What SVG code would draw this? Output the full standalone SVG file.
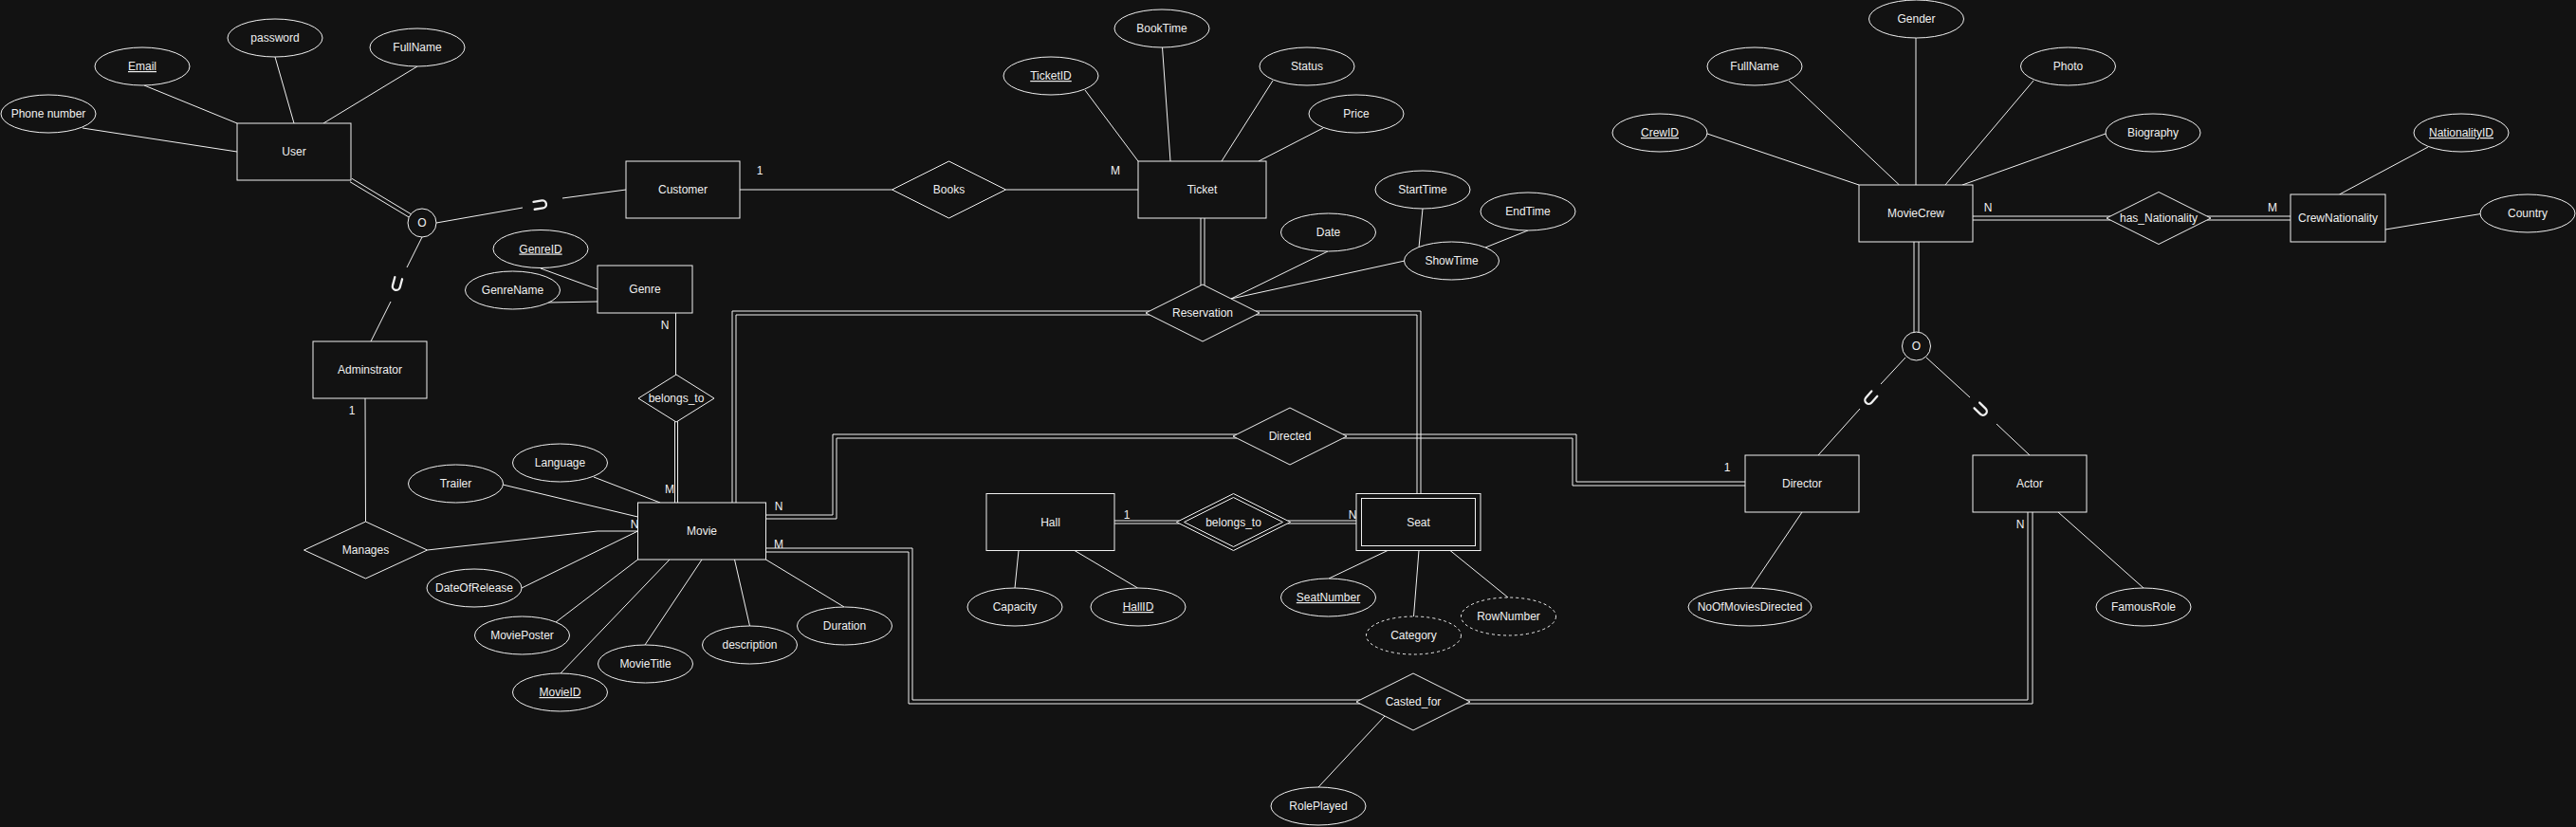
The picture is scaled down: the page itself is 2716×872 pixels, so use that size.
<svg xmlns="http://www.w3.org/2000/svg" width="2716" height="872" viewBox="0 0 2716 872">
<style>
.ent rect, .rel polygon, .attr ellipse, .spec circle {fill:#121212; stroke:#f0f0f0; stroke-width:1}
text{font-family:"Liberation Sans", Arial, Helvetica, sans-serif; font-size:12px; fill:#f0f0f0; text-anchor:middle}
.key{text-decoration:underline}
.attr ellipse.dash{stroke-dasharray:3 3}
.ln{stroke:#f0f0f0; stroke-width:1; fill:none}
.sym{stroke:#f0f0f0; stroke-width:2.3; fill:none; stroke-linecap:round}
</style>
<defs>
<path id="u" d="M-4,-6.5 L-4,2.5 A4,4 0 0 0 4,2.5 L4,-6.5"/>
</defs>
<rect x="0" y="0" width="2716" height="872" fill="#121212"/>

<g id="connectors" class="ln">
  <!-- User attributes -->
  <line x1="87" y1="135" x2="250" y2="160"/>
  <line x1="152" y1="90" x2="250" y2="130"/>
  <line x1="290" y1="60" x2="310" y2="130"/>
  <line x1="440" y1="70" x2="341" y2="130"/>
  <!-- User specialization -->
  <line x1="369" y1="191.7" x2="431.1" y2="229"/>
  <line x1="371" y1="188.3" x2="433.1" y2="225.6"/>
  <line x1="460" y1="235" x2="551" y2="219"/>
  <line x1="593" y1="209" x2="660" y2="200"/>
  <line x1="445" y1="250" x2="429" y2="282"/>
  <line x1="412" y1="318" x2="391" y2="360"/>
  <!-- Genre -->
  <line x1="570" y1="283" x2="630" y2="305"/>
  <line x1="578" y1="319" x2="630" y2="318"/>
  <line x1="712.5" y1="330" x2="712.5" y2="395"/>
  <line x1="711.5" y1="444" x2="711.5" y2="530"/>
  <line x1="714.5" y1="444" x2="714.5" y2="530"/>
  <!-- Customer - Books - Ticket -->
  <line x1="780" y1="200" x2="940.5" y2="200"/>
  <line x1="1060.5" y1="200" x2="1200" y2="200"/>
  <!-- Ticket attributes -->
  <line x1="1144" y1="95" x2="1200" y2="170"/>
  <line x1="1225.5" y1="50" x2="1234" y2="170"/>
  <line x1="1342" y1="85" x2="1288" y2="170"/>
  <line x1="1395" y1="135" x2="1327" y2="170"/>
  <!-- Ticket - Reservation -->
  <line x1="1266" y1="230" x2="1266" y2="301"/>
  <line x1="1270" y1="230" x2="1270" y2="301"/>
  <!-- Reservation attributes -->
  <line x1="1400" y1="265" x2="1298" y2="315"/>
  <line x1="1481" y1="275" x2="1298" y2="315"/>
  <line x1="1500" y1="220" x2="1496" y2="261"/>
  <line x1="1611" y1="243" x2="1566" y2="261"/>
  <!-- Movie - Reservation - Seat -->
  <polyline points="1212,332 776,332 776,530"/>
  <polyline points="1212,328 772,328 772,530"/>
  <polyline points="1324,328 1498,328 1498,520.5"/>
  <polyline points="1324,332 1494,332 1494,520.5"/>
  <!-- Movie - Directed - Director -->
  <polyline points="807.5,543 878,543 878,458 1304,458"/>
  <polyline points="807.5,547 882,547 882,462 1304,462"/>
  <polyline points="1416,458 1662,458 1662,508 1840,508"/>
  <polyline points="1416,462 1658,462 1658,512 1840,512"/>
  <!-- Movie - Casted_for - Actor -->
  <polyline points="807.5,578 962,578 962,738 1434,738"/>
  <polyline points="807.5,582 958,582 958,742 1434,742"/>
  <polyline points="1546,738 2138,738 2138,540"/>
  <polyline points="1546,742 2143,742 2143,540"/>
  <line x1="1390" y1="830" x2="1460" y2="755"/>
  <!-- Adminstrator - Manages - Movie -->
  <line x1="385" y1="420" x2="385.5" y2="550"/>
  <polyline points="450.5,580 630,560 672.5,560"/>
  <!-- Movie attributes -->
  <line x1="530" y1="511" x2="672.5" y2="545"/>
  <line x1="626" y1="503" x2="696" y2="530"/>
  <line x1="550" y1="620" x2="672.5" y2="560"/>
  <line x1="586" y1="656" x2="672.5" y2="590"/>
  <line x1="591" y1="710" x2="706" y2="590"/>
  <line x1="680" y1="680" x2="740" y2="590"/>
  <line x1="790.5" y1="660" x2="774.5" y2="590"/>
  <line x1="890" y1="640" x2="807.5" y2="590"/>
  <!-- Hall - belongs_to - Seat -->
  <line x1="1070" y1="620" x2="1074" y2="580.5"/>
  <line x1="1199.5" y1="620" x2="1133" y2="580.5"/>
  <line x1="1175" y1="549" x2="1243.5" y2="549"/>
  <line x1="1175" y1="552" x2="1243.5" y2="552"/>
  <line x1="1357.5" y1="549" x2="1430" y2="549"/>
  <line x1="1357.5" y1="552" x2="1430" y2="552"/>
  <!-- Seat attributes -->
  <line x1="1401" y1="610" x2="1463" y2="580.5"/>
  <line x1="1490.5" y1="650" x2="1496" y2="580.5"/>
  <line x1="1590" y1="630" x2="1529" y2="580.5"/>
  <!-- MovieCrew attributes -->
  <line x1="1800" y1="141" x2="1960" y2="195"/>
  <line x1="1886" y1="85" x2="2002.5" y2="195"/>
  <line x1="2020" y1="40" x2="2020" y2="195"/>
  <line x1="2144" y1="85" x2="2051" y2="195"/>
  <line x1="2220" y1="141" x2="2069" y2="195"/>
  <!-- MovieCrew - has_Nationality - CrewNationality -->
  <line x1="2080" y1="228" x2="2225" y2="228"/>
  <line x1="2080" y1="232" x2="2225" y2="232"/>
  <line x1="2327" y1="228" x2="2415" y2="228"/>
  <line x1="2327" y1="232" x2="2415" y2="232"/>
  <line x1="2560" y1="155" x2="2466.5" y2="205"/>
  <line x1="2615.5" y1="225.5" x2="2515" y2="242"/>
  <!-- MovieCrew specialization -->
  <line x1="2018" y1="255" x2="2018" y2="350.5"/>
  <line x1="2023" y1="255" x2="2023" y2="350.5"/>
  <line x1="2009" y1="377" x2="1983" y2="405"/>
  <line x1="1961" y1="431" x2="1917" y2="480"/>
  <line x1="2031" y1="377" x2="2077" y2="419"/>
  <line x1="2105" y1="447" x2="2140" y2="480"/>
  <!-- Director / Actor attributes -->
  <line x1="1846" y1="620" x2="1900" y2="540"/>
  <line x1="2260" y1="620" x2="2170" y2="540"/>
  <!-- subset symbols -->
  <use href="#u" class="sym" transform="translate(569.5,215.8) rotate(-98.8)"/>
  <use href="#u" class="sym" transform="translate(418.5,299.5) rotate(15)"/>
  <use href="#u" class="sym" transform="translate(1972,420) rotate(41.4)"/>
  <use href="#u" class="sym" transform="translate(2089,432) rotate(-45.6)"/>
</g>

<g id="labels">
  <text x="801" y="184">1</text>
  <text x="1176" y="184">M</text>
  <text x="701" y="347">N</text>
  <text x="706" y="520">M</text>
  <text x="669" y="557">N</text>
  <text x="821" y="538">N</text>
  <text x="821" y="578">M</text>
  <text x="371" y="437">1</text>
  <text x="1188" y="547">1</text>
  <text x="1426" y="547">N</text>
  <text x="1821" y="497">1</text>
  <text x="2130" y="557">N</text>
  <text x="2096" y="223">N</text>
  <text x="2396" y="223">M</text>
</g>

<!-- Entities -->
<g id="user" class="ent"><rect x="250" y="130" width="120" height="60"/><text x="310" y="164">User</text></g>
<g id="customer" class="ent"><rect x="660" y="170" width="120" height="60"/><text x="720" y="204">Customer</text></g>
<g id="adminstrator" class="ent"><rect x="330" y="360" width="120" height="60"/><text x="390" y="394">Adminstrator</text></g>
<g id="genre" class="ent"><rect x="630" y="280" width="100" height="50"/><text x="680" y="309">Genre</text></g>
<g id="ticket" class="ent"><rect x="1200" y="170" width="135" height="60"/><text x="1267.5" y="204">Ticket</text></g>
<g id="movie" class="ent"><rect x="672.5" y="530" width="135" height="60"/><text x="740" y="564">Movie</text></g>
<g id="hall" class="ent"><rect x="1040" y="520.5" width="135" height="60"/><text x="1107.5" y="554.5">Hall</text></g>
<g id="seat" class="ent"><rect x="1430" y="520.5" width="131" height="60"/><rect x="1435.5" y="525.5" width="120" height="50"/><text x="1495.5" y="554.5">Seat</text></g>
<g id="moviecrew" class="ent"><rect x="1960" y="195" width="120" height="60"/><text x="2020" y="229">MovieCrew</text></g>
<g id="crewnationality" class="ent"><rect x="2415" y="205" width="100" height="50"/><text x="2465" y="234">CrewNationality</text></g>
<g id="director" class="ent"><rect x="1840" y="480" width="120" height="60"/><text x="1900" y="514">Director</text></g>
<g id="actor" class="ent"><rect x="2080" y="480" width="120" height="60"/><text x="2140" y="514">Actor</text></g>

<!-- Specialization circles -->
<g id="spec-user" class="spec"><circle cx="445" cy="235" r="15"/><text x="445" y="239">O</text></g>
<g id="spec-crew" class="spec"><circle cx="2020.5" cy="365" r="15"/><text x="2020.5" y="369">O</text></g>

<!-- Relationships -->
<g id="books" class="rel"><polygon points="940.5,200 1000.5,170 1060.5,200 1000.5,230"/><text x="1000.5" y="204">Books</text></g>
<g id="reservation" class="rel"><polygon points="1208,330 1268,300 1328,330 1268,360"/><text x="1268" y="334">Reservation</text></g>
<g id="belongs-genre" class="rel"><polygon points="673,420 713,395 753,420 713,445"/><text x="713" y="424">belongs_to</text></g>
<g id="manages" class="rel"><polygon points="320.5,580 385.5,550 450.5,580 385.5,610"/><text x="385.5" y="584">Manages</text></g>
<g id="directed" class="rel"><polygon points="1300,460 1360,430 1420,460 1360,490"/><text x="1360" y="464">Directed</text></g>
<g id="belongs-hall" class="rel"><polygon points="1240.5,550.5 1300.5,520.5 1360.5,550.5 1300.5,580.5"/><polygon points="1248.5,550.5 1300.5,524.5 1352.5,550.5 1300.5,576.5"/><text x="1300.5" y="554.5">belongs_to</text></g>
<g id="casted-for" class="rel"><polygon points="1430,740 1490,710 1550,740 1490,770"/><text x="1490" y="744">Casted_for</text></g>
<g id="has-nationality" class="rel"><polygon points="2221,230 2276,202.5 2331,230 2276,257.5"/><text x="2276" y="234">has_Nationality</text></g>

<!-- Attributes -->
<g id="a-phone" class="attr"><ellipse cx="51" cy="120" rx="50" ry="20"/><text x="51" y="124">Phone number</text></g>
<g id="a-email" class="attr"><ellipse cx="150" cy="70" rx="50" ry="20"/><text class="key" x="150" y="74">Email</text></g>
<g id="a-password" class="attr"><ellipse cx="290" cy="40" rx="50" ry="20"/><text x="290" y="44">password</text></g>
<g id="a-fullname" class="attr"><ellipse cx="440" cy="50" rx="50" ry="20"/><text x="440" y="54">FullName</text></g>
<g id="a-genreid" class="attr"><ellipse cx="570" cy="262.5" rx="50" ry="20"/><text class="key" x="570" y="266.5">GenreID</text></g>
<g id="a-genrename" class="attr"><ellipse cx="540.5" cy="306" rx="50" ry="20"/><text x="540.5" y="310">GenreName</text></g>
<g id="a-ticketid" class="attr"><ellipse cx="1108" cy="80" rx="50" ry="20"/><text class="key" x="1108" y="84">TicketID</text></g>
<g id="a-booktime" class="attr"><ellipse cx="1225" cy="30" rx="50" ry="20"/><text x="1225" y="34">BookTime</text></g>
<g id="a-status" class="attr"><ellipse cx="1378" cy="70" rx="50" ry="20"/><text x="1378" y="74">Status</text></g>
<g id="a-price" class="attr"><ellipse cx="1430" cy="120" rx="50" ry="20"/><text x="1430" y="124">Price</text></g>
<g id="a-date" class="attr"><ellipse cx="1400.5" cy="245" rx="50" ry="20"/><text x="1400.5" y="249">Date</text></g>
<g id="a-starttime" class="attr"><ellipse cx="1500" cy="200" rx="50" ry="20"/><text x="1500" y="204">StartTime</text></g>
<g id="a-endtime" class="attr"><ellipse cx="1611" cy="223" rx="50" ry="20"/><text x="1611" y="227">EndTime</text></g>
<g id="a-showtime" class="attr"><ellipse cx="1530.5" cy="275" rx="50" ry="20"/><text x="1530.5" y="279">ShowTime</text></g>
<g id="a-crewid" class="attr"><ellipse cx="1750" cy="140" rx="50" ry="20"/><text class="key" x="1750" y="144">CrewID</text></g>
<g id="a-crewfullname" class="attr"><ellipse cx="1850" cy="70" rx="50" ry="20"/><text x="1850" y="74">FullName</text></g>
<g id="a-gender" class="attr"><ellipse cx="2020.5" cy="20" rx="50" ry="20"/><text x="2020.5" y="24">Gender</text></g>
<g id="a-photo" class="attr"><ellipse cx="2180.5" cy="70" rx="50" ry="20"/><text x="2180.5" y="74">Photo</text></g>
<g id="a-biography" class="attr"><ellipse cx="2270" cy="140" rx="50" ry="20"/><text x="2270" y="144">Biography</text></g>
<g id="a-nationalityid" class="attr"><ellipse cx="2595" cy="140" rx="50" ry="20"/><text class="key" x="2595" y="144">NationalityID</text></g>
<g id="a-country" class="attr"><ellipse cx="2665" cy="225" rx="50" ry="20"/><text x="2665" y="229">Country</text></g>
<g id="a-trailer" class="attr"><ellipse cx="480.5" cy="510" rx="50" ry="20"/><text x="480.5" y="514">Trailer</text></g>
<g id="a-language" class="attr"><ellipse cx="590.5" cy="488" rx="50" ry="20"/><text x="590.5" y="492">Language</text></g>
<g id="a-dateofrelease" class="attr"><ellipse cx="500" cy="620" rx="50" ry="20"/><text x="500" y="624">DateOfRelease</text></g>
<g id="a-movieposter" class="attr"><ellipse cx="550.5" cy="670" rx="50" ry="20"/><text x="550.5" y="674">MoviePoster</text></g>
<g id="a-movieid" class="attr"><ellipse cx="590.5" cy="730" rx="50" ry="20"/><text class="key" x="590.5" y="734">MovieID</text></g>
<g id="a-movietitle" class="attr"><ellipse cx="680.5" cy="700" rx="50" ry="20"/><text x="680.5" y="704">MovieTitle</text></g>
<g id="a-description" class="attr"><ellipse cx="790.5" cy="680" rx="50" ry="20"/><text x="790.5" y="684">description</text></g>
<g id="a-duration" class="attr"><ellipse cx="890.5" cy="660" rx="50" ry="20"/><text x="890.5" y="664">Duration</text></g>
<g id="a-capacity" class="attr"><ellipse cx="1070" cy="640" rx="50" ry="20"/><text x="1070" y="644">Capacity</text></g>
<g id="a-hallid" class="attr"><ellipse cx="1200" cy="640" rx="50" ry="20"/><text class="key" x="1200" y="644">HallID</text></g>
<g id="a-seatnumber" class="attr"><ellipse cx="1400.5" cy="630" rx="50" ry="20"/><text class="key" x="1400.5" y="634">SeatNumber</text></g>
<g id="a-category" class="attr"><ellipse class="dash" cx="1490.5" cy="670" rx="50" ry="20"/><text x="1490.5" y="674">Category</text></g>
<g id="a-rownumber" class="attr"><ellipse class="dash" cx="1590.5" cy="650" rx="50" ry="20"/><text x="1590.5" y="654">RowNumber</text></g>
<g id="a-noofmovies" class="attr"><ellipse cx="1845" cy="640" rx="65" ry="20"/><text x="1845" y="644">NoOfMoviesDirected</text></g>
<g id="a-famousrole" class="attr"><ellipse cx="2260" cy="640" rx="50" ry="20"/><text x="2260" y="644">FamousRole</text></g>
<g id="a-roleplayed" class="attr"><ellipse cx="1390" cy="850" rx="50" ry="20"/><text x="1390" y="854">RolePlayed</text></g>
</svg>
